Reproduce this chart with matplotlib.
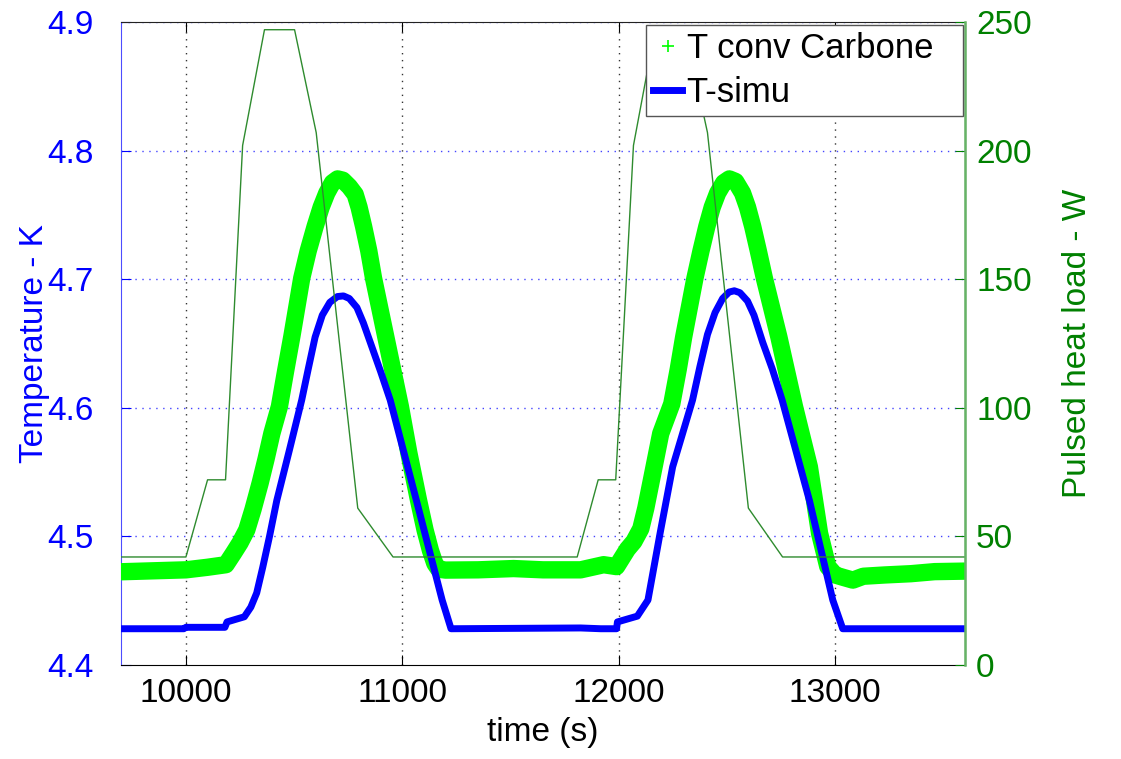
import matplotlib
matplotlib.use("Agg")
import matplotlib.pyplot as plt
from matplotlib.lines import Line2D

plt.rcParams['font.family'] = ['Liberation Sans', 'DejaVu Sans']

# ---- data ----
# Measured temperature "T conv Carbone" (K)
t_meas = [9700, 9800, 9900, 10000, 10100, 10185, 10220, 10250, 10281, 10310,
          10343, 10370, 10397, 10432, 10460, 10490, 10535, 10565, 10597, 10625,
          10651, 10677, 10701, 10725, 10755, 10782, 10800, 10821, 10845, 10867,
          10930, 10991, 11030, 11075, 11105, 11130, 11150, 11168, 11200, 11350,
          11514, 11650, 11824, 11930, 11990, 12040, 12070, 12102, 12125, 12148,
          12194, 12245, 12275, 12300, 12352, 12380, 12407, 12432, 12457, 12485,
          12511, 12540, 12572, 12595, 12619, 12645, 12673, 12740, 12812, 12881,
          12928, 12966, 13000, 13040, 13082, 13130, 13228, 13350, 13460, 13600]
T_meas = [4.4725, 4.4730, 4.4735, 4.4740, 4.4760, 4.4780, 4.4870, 4.4950, 4.5050, 4.5210,
          4.5415, 4.5600, 4.5800, 4.6010, 4.6280, 4.6560, 4.7007, 4.7220, 4.7410, 4.7560,
          4.7670, 4.7750, 4.7780, 4.7770, 4.7720, 4.7660, 4.7560, 4.7410, 4.7220, 4.7007,
          4.6500, 4.6010, 4.5650, 4.5280, 4.5050, 4.4890, 4.4790, 4.4745, 4.4738, 4.4740,
          4.4750, 4.4740, 4.4740, 4.4780, 4.4765, 4.4900, 4.4960, 4.5060, 4.5220, 4.5413,
          4.5800, 4.6030, 4.6300, 4.6550, 4.7007, 4.7220, 4.7410, 4.7560, 4.7670, 4.7750,
          4.7780, 4.7760, 4.7670, 4.7560, 4.7410, 4.7220, 4.7007, 4.6550, 4.6010, 4.5540,
          4.5024, 4.4765, 4.4700, 4.4680, 4.4660, 4.4690, 4.4700, 4.4710, 4.4726, 4.4730]

# Simulated temperature "T-simu" (K)
t_simu = [9700, 9990, 10000, 10180, 10190, 10270, 10300, 10327, 10355, 10386,
          10420, 10478, 10535, 10565, 10597, 10630, 10665, 10700, 10728, 10755,
          10790, 10820, 10860, 10900, 10944, 11065, 11184, 11225, 11824, 11917,
          11990, 11994, 12086, 12135, 12191, 12249, 12341, 12375, 12410, 12445,
          12480, 12510, 12534, 12560, 12595, 12625, 12665, 12710, 12755, 12881,
          12989, 13035, 13600]
T_simu = [4.4282, 4.4282, 4.4293, 4.4293, 4.4335, 4.4375, 4.4450, 4.4560, 4.4760, 4.4998,
          4.5280, 4.5670, 4.6060, 4.6300, 4.6550, 4.6720, 4.6820, 4.6865, 4.6870, 4.6850,
          4.6780, 4.6660, 4.6470, 4.6280, 4.6060, 4.5280, 4.4505, 4.4282, 4.4288, 4.4282,
          4.4282, 4.4335, 4.4380, 4.4505, 4.5024, 4.5540, 4.6060, 4.6320, 4.6570, 4.6740,
          4.6850, 4.6900, 4.6910, 4.6895, 4.6830, 4.6720, 4.6510, 4.6300, 4.6060, 4.5280,
          4.4505, 4.4282, 4.4282]

# Pulsed heat load (W)
t_load = [9700, 10000, 10100, 10183, 10262, 10363, 10502, 10602, 10794, 10957,
          11808, 11905, 11986, 12068, 12168, 12307, 12410, 12599, 12757, 13600]
P_load = [42, 42, 72, 72, 202, 247, 247, 207, 61, 42,
          42, 72, 72, 202, 247, 247, 207, 61, 42, 42]

x_ticks = [10000, 11000, 12000, 13000]
y1_ticks = [4.4, 4.5, 4.6, 4.7, 4.8, 4.9]
y2_ticks = [0, 50, 100, 150, 200, 250]

# ---- styling ----
FS = 24
BLUE = '#0000ff'
LIME = '#00ff00'
DKGREEN = '#008000'

fig = plt.figure(figsize=(11.21, 7.59), dpi=100)
ax1 = fig.add_axes([121/1121, 1 - 665/759, (965-121)/1121, (665-22)/759])
ax2 = ax1.twinx()

# measured band (dense '+' markers in the original)
ax1.plot(t_meas, T_meas, color=LIME, lw=12.5, solid_joinstyle='round',
         solid_capstyle='butt', zorder=3)
ax1.plot(t_meas, T_meas, ls='none', marker='+', ms=12, mew=1.5, color=LIME, zorder=3)
# simulation
ax1.plot(t_simu, T_simu, color=BLUE, lw=5, solid_joinstyle='round', zorder=4)

ax1.set_xlim(9700, 13600)
ax1.set_ylim(4.4, 4.9)
ax1.set_xticks(x_ticks)
ax1.set_xticklabels([str(v) for v in x_ticks])
ax1.set_yticks(y1_ticks)
ax1.set_yticklabels(['%.1f' % v for v in y1_ticks])

# grids
for v in y1_ticks[1:]:
    ax1.axhline(v, color='#4444ff', lw=1.0, ls=(0, (1, 4)), zorder=1)
for v in x_ticks:
    ax1.axvline(v, color='#333333', lw=1.0, ls=(0, (1, 4)), zorder=1)

ax1.tick_params(axis='x', direction='in', length=7, labelsize=FS, colors='black', pad=9, top=True)
ax1.tick_params(axis='y', direction='in', length=7, labelsize=FS, colors=BLUE, labelcolor=BLUE, pad=20)
ax1.set_xlabel('time (s)', fontsize=FS, labelpad=6)
ax1.set_ylabel('Temperature - K', fontsize=FS, color=BLUE)
ax1.yaxis.set_label_coords((50 - 121) / 844, 0.5)

ax1.spines['left'].set_color('#4d4dff')
ax1.spines['top'].set_color('#222222')
ax1.spines['bottom'].set_color('black')

# heat load
ax2.plot(t_load, P_load, color='#2e8b2e', lw=1.0, zorder=2)
ax2.set_ylim(0, 250)
ax2.set_yticks(y2_ticks)
ax2.set_yticklabels([str(v) for v in y2_ticks])
ax2.tick_params(axis='y', direction='in', length=7, labelsize=FS, colors=DKGREEN, labelcolor=DKGREEN, pad=8)
ax2.set_ylabel('Pulsed heat load - W', fontsize=FS, color=DKGREEN, labelpad=22)
ax2.spines['right'].set_color('#66b366')
ax2.spines['right'].set_linewidth(1.8)
ax2.spines['left'].set_visible(False)
ax2.spines['top'].set_visible(False)
ax2.spines['bottom'].set_visible(False)

handles = [Line2D([], [], ls='none', marker='+', ms=9, mew=1.2, color=LIME),
           Line2D([], [], color=BLUE, lw=5)]
x0 = (646 - 121) / 844
x1 = (963 - 121) / 844
ytop = (665 - 25) / 643
leg = ax2.legend(handles, ['T conv Carbone', 'T-simu'], loc='upper left',
                 bbox_to_anchor=(x0, ytop, x1 - x0, 0.0), mode='expand',
                 fontsize=25, frameon=True, fancybox=False, framealpha=1,
                 edgecolor='#555555', handlelength=0.85, handletextpad=0.12,
                 borderpad=0.2, labelspacing=0.32, borderaxespad=0.0)
leg.get_frame().set_linewidth(1.0)
leg.set_zorder(10)

fig.savefig('out.png', dpi=100)
